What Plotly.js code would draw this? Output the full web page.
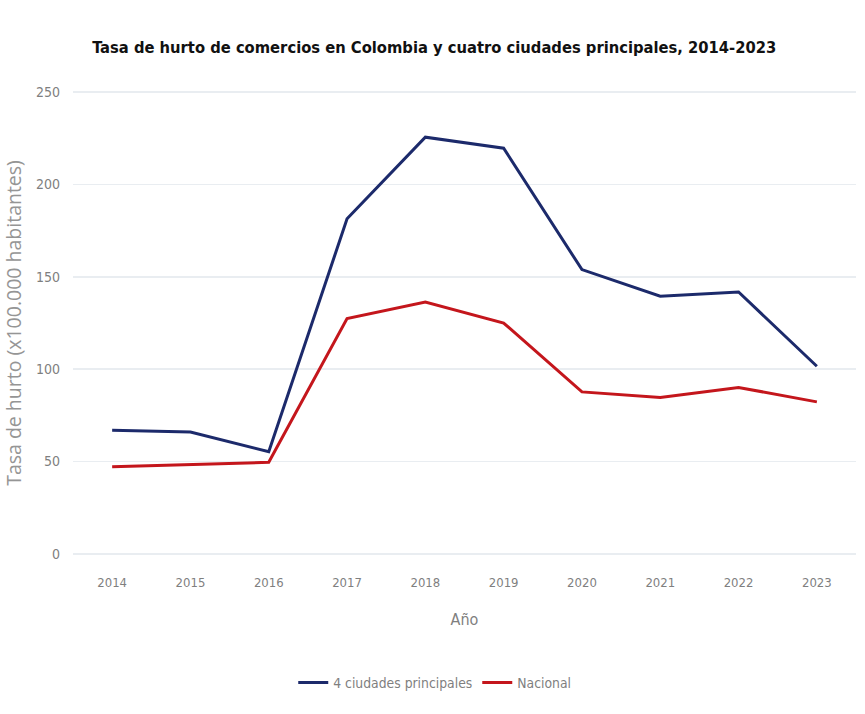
<!DOCTYPE html>
<html>
<head>
<meta charset="utf-8">
<script src="https://cdn.plot.ly/plotly-3.0.1.min.js"></script>
<style>html,body{margin:0;padding:0;background:#fff}#chart{width:865px;height:714px}</style>
</head>
<body>
<div id="chart"></div>
<script>
const years = ["2014","2015","2016","2017","2018","2019","2020","2021","2022","2023"];
const ciudades = [67, 66, 55.3, 181.4, 225.6, 219.6, 153.9, 139.5, 141.8, 101.6];
const nacional = [47.2, 48.6, 49.6, 127.4, 136.4, 125, 87.7, 84.7, 90.1, 82.3];
const seriesNames = ["4 ciudades principales", "Nacional"];
const yTicks = [0, 50, 100, 150, 200, 250];

const narrow = "DejaVu Sans Condensed, Liberation Sans Narrow, sans-serif";
const traces = [
  {x: years, y: ciudades, name: seriesNames[0], type: "scatter", mode: "lines",
   line: {color: "#1c2a6b", width: 3}},
  {x: years, y: nacional, name: seriesNames[1], type: "scatter", mode: "lines",
   line: {color: "#c4161c", width: 3}}
];
const layout = {
  width: 865, height: 714,
  margin: {l: 73, r: 9, t: 91, b: 159},
  paper_bgcolor: "#fff", plot_bgcolor: "#fff",
  title: {text: "<b>Tasa de hurto de comercios en Colombia y cuatro ciudades principales, 2014-2023</b>",
          font: {family: narrow, size: 16.4, color: "#111"}, x: 0.502, xanchor: "center", y: 0.934, yanchor: "middle"},
  xaxis: {type: "category", range: [-0.5, 9.5], showgrid: false, zeroline: false, showline: false,
          ticks: "", ticklabelstandoff: 18, tickfont: {family: narrow, size: 13, color: "#7f7f7f"},
          title: {text: "Año", font: {family: narrow, size: 16, color: "#7f7f7f"}, standoff: 24}},
  yaxis: {range: [-0.6, 250.6], tickvals: yTicks, showgrid: true, gridcolor: "#e9edf1", gridwidth: 1.5,
          zeroline: false, showline: false, ticks: "", ticklabelstandoff: 12,
          tickfont: {family: narrow, size: 14, color: "#7f7f7f"},
          title: {text: "Tasa de hurto (x100.000 habitantes)", font: {family: "Open Sans, sans-serif", size: 19.5, color: "#959595"}, standoff: 10}},
  showlegend: true,
  legend: {orientation: "h", x: 0.462, xanchor: "center", y: -0.275, yanchor: "middle",
           font: {family: narrow, size: 13.8, color: "#7f7f7f"}, itemwidth: 30},
  hoverlabel: {font: {family: narrow}}
};
Plotly.newPlot("chart", traces, layout, {displayModeBar: false, staticPlot: true});
</script>
</body>
</html>
